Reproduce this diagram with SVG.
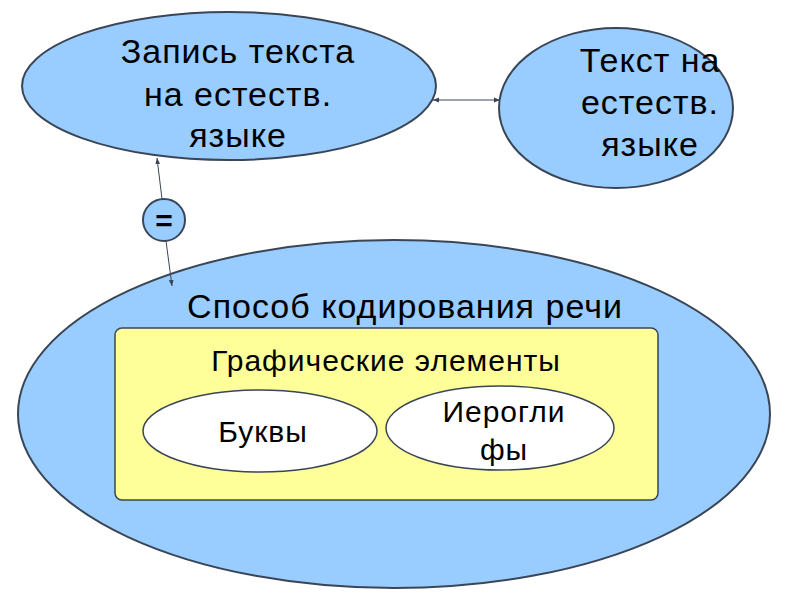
<svg xmlns="http://www.w3.org/2000/svg" width="800" height="600" viewBox="0 0 800 600">
<style>
.blue{fill:#99ccff;stroke:#3a4656;stroke-width:2}
.white{fill:#ffffff;stroke:#3a4656;stroke-width:1.5}
.t{font-family:"Liberation Sans",Arial,sans-serif;fill:#000;text-anchor:middle}
.big{font-size:34px;letter-spacing:1px}
.mid{font-size:30px;letter-spacing:1px}
.conn{stroke:#3a4656;stroke-width:1;fill:none}
</style>
<defs>
<marker id="ah" viewBox="0 0 10 10" refX="10" refY="5" markerWidth="6" markerHeight="6" orient="auto-start-reverse" markerUnits="userSpaceOnUse">
<path d="M0,1 L10,5 L0,9 Z" fill="#3a4656"/>
</marker>
</defs>
<rect width="800" height="600" fill="#fff"/>
<g id="n-sposob">
<ellipse class="blue" cx="394" cy="414" rx="376" ry="174"/>
<text class="t big" x="405" y="318">Способ кодирования речи</text>
</g>
<g id="n-graf">
<rect x="115" y="328" width="543" height="172" rx="7" fill="#ffff99" stroke="#3a4656" stroke-width="1.5"/>
<text class="t mid" x="386" y="371">Графические элементы</text>
</g>
<g id="n-bukvy">
<ellipse class="white" cx="260" cy="431" rx="117" ry="41"/>
<text class="t mid" x="263" y="442">Буквы</text>
</g>
<g id="n-ieroglify">
<ellipse class="white" cx="500" cy="428" rx="114" ry="42"/>
<text class="t mid" x="504" y="422">Иерогли</text>
<text class="t mid" x="504" y="460">фы</text>
</g>
<g id="n-zapis">
<ellipse class="blue" cx="229" cy="86" rx="207" ry="74"/>
<text class="t big" x="238" y="63">Запись текста</text>
<text class="t big" x="238" y="106">на естеств.</text>
<text class="t big" x="238" y="147">языке</text>
</g>
<g id="n-tekst">
<ellipse class="blue" cx="616" cy="108" rx="117" ry="80"/>
<text class="t big" x="650" y="72">Текст на</text>
<text class="t big" x="650" y="114">естеств.</text>
<text class="t big" x="650" y="156">языке</text>
</g>
<g id="n-eq">
<circle class="blue" cx="164" cy="220" r="21" stroke-width="1.5"/>
<text class="t" x="164" y="231" font-size="30" font-weight="bold">=</text>
</g>
<g id="connectors">
<line class="conn" x1="433" y1="100" x2="500" y2="100" marker-start="url(#ah)" marker-end="url(#ah)"/>
<line class="conn" x1="162" y1="199" x2="157" y2="158" marker-end="url(#ah)"/>
<line class="conn" x1="166" y1="241" x2="172" y2="286" marker-end="url(#ah)"/>
</g>
</svg>
